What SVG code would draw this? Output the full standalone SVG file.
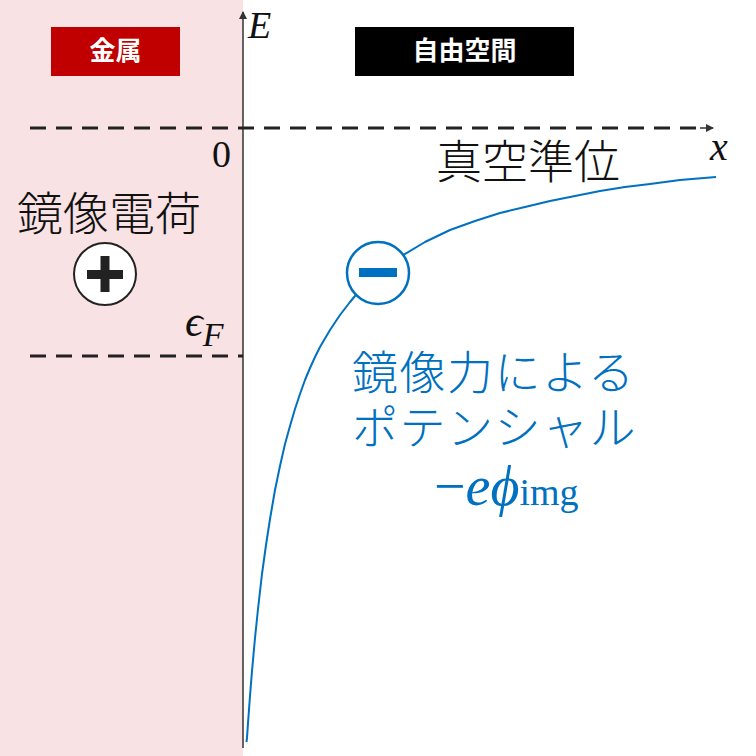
<svg xmlns="http://www.w3.org/2000/svg" width="756" height="756" viewBox="0 0 756 756">
<style>
.jp{font-family:"Noto Sans CJK JP","Noto Sans",sans-serif}
.m{font-family:"Liberation Serif","DejaVu Serif",serif}
.dash{stroke:#222;stroke-width:3;stroke-dasharray:16,10;fill:none}
</style>
<defs><marker id="ah" markerWidth="8" markerHeight="8" refX="7" refY="4" orient="auto" markerUnits="userSpaceOnUse"><path d="M0,0 L8,4 L0,8 z" fill="#333"/></marker></defs>
<rect width="756" height="756" fill="#fff"/>
<rect x="0" y="0" width="243" height="756" fill="#f8e2e3"/>
<g id="connectors">
<line x1="243" y1="748" x2="243" y2="12" stroke="#333" stroke-width="1.5" marker-end="url(#ah)"/>
<line class="dash" x1="30" y1="128" x2="705" y2="128"/>
<line x1="700" y1="128" x2="713" y2="128" stroke="#333" stroke-width="1.5" marker-end="url(#ah)"/>
<line class="dash" x1="30" y1="356" x2="243" y2="356"/>
<path d="M246.5,742 L247,738 L248,723 L250,696 L252,671 L255,638 L258,609 L262,574 L266,545 L270,519 L275,490 L280,466 L285,444 L290,426 L295,409 L300,394 L305,380 L310,368 L315,357 L320,347 L330,330 L340,315 L350,302 L360,290 L380,272 L400,257 L425,242 L450,230 L475,221 L500,213 L525,207 L550,201 L575,196 L600,191 L625,187 L650,184 L680,180 L716,177" fill="none" stroke="#0070c0" stroke-width="2" stroke-linejoin="round"/>
</g>
<g id="metal"><rect x="51" y="27" width="129" height="49" fill="#c00000"/><text x="115.5" y="60" text-anchor="middle" font-size="26" font-weight="bold" fill="#fff" class="jp">金属</text></g>
<g id="free"><rect x="355" y="27" width="219" height="49" fill="#000"/><text x="464.5" y="60" text-anchor="middle" font-size="26" font-weight="bold" fill="#fff" class="jp">自由空間</text></g>
<g id="labels">
<text x="248" y="38" font-size="38" font-style="italic" class="m" fill="#111">E</text>
<text x="710" y="160" font-size="40" font-style="italic" class="m" fill="#111">x</text>
<text x="212" y="167" font-size="38" class="m" fill="#111">0</text>
<text x="436" y="178" font-size="46" font-weight="300" class="jp" fill="#111">真空準位</text>
<text x="17" y="230" font-size="46" font-weight="300" class="jp" fill="#111">鏡像電荷</text>
<text x="185" y="336" font-size="44" font-style="italic" class="m" fill="#111">ϵ<tspan font-size="34" dy="10">F</tspan></text>
</g>
<g id="plus"><circle cx="105" cy="274" r="31" fill="#fff" stroke="#222" stroke-width="2"/><rect x="87" y="270" width="36" height="9" fill="#222"/><rect x="100.5" y="256" width="9" height="36" fill="#222"/></g>
<g id="minus"><circle cx="378" cy="273" r="31" fill="#fff" stroke="#0070c0" stroke-width="2.5"/><rect x="359" y="268" width="38" height="9" fill="#0070c0"/></g>
<g id="potential" fill="#0070c0">
<text x="352" y="389" font-size="46" font-weight="300" letter-spacing="1.5" class="jp">鏡像力による</text>
<text x="352" y="444" font-size="46" font-weight="300" letter-spacing="1.5" class="jp">ポテンシャル</text>
<text x="434" y="505" font-size="56" class="m">−<tspan font-style="italic">eϕ</tspan><tspan font-size="38">img</tspan></text>
</g>
</svg>
